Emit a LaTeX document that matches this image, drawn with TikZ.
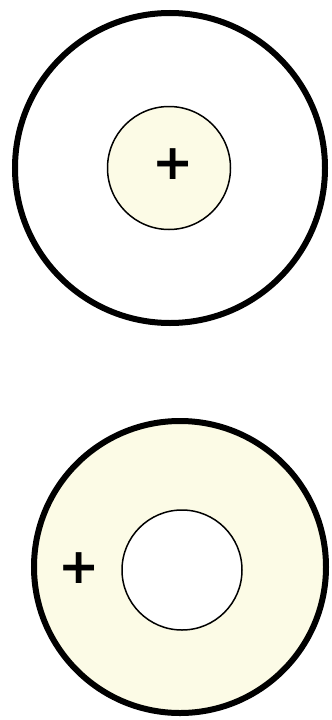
\documentclass[tikz,border=0pt]{standalone}
\usepackage{tikz}
\usepackage{fontspec}
\usetikzlibrary{positioning}
\newfontfamily\signfont{DejaVu Sans}
\definecolor{cream}{RGB}{252,251,230}

\begin{document}
\begin{tikzpicture}[x=0.3mm, y=-0.3mm,
  ring/.style={circle, draw, line width=1.8mm, inner sep=0pt},
  core/.style={circle, draw, line width=0.45mm, inner sep=0pt},
  sign/.style={inner sep=0pt, font=\signfont\bfseries\fontsize{42}{42}\selectfont}]
\useasboundingbox (0,0) rectangle (331,720);
% upper pair: charged core inside a plain ring
\node[ring, minimum size=93mm] (outerA) at (170,168) {};
\node[core, fill=cream, minimum size=36.9mm] (innerA) at (169,168) {};
\node[sign] (plusA) at (173,164) {+};
% lower pair: charged shell round a plain hole
\node[ring, fill=cream, minimum size=87.6mm] (outerB) at (180,567) {};
\node[core, fill=white, minimum size=36mm] (innerB) at (182,570) {};
\node[sign] (plusB) at (79,568) {+};
\end{tikzpicture}
\end{document}
